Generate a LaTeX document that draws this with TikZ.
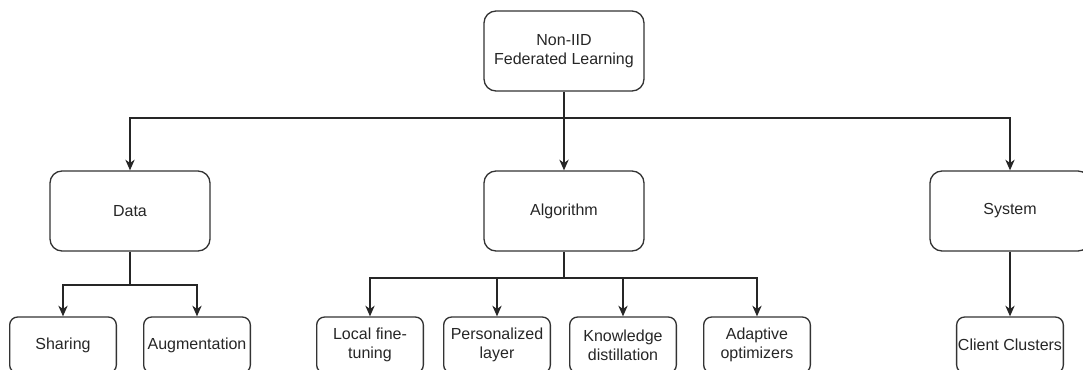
\documentclass[tikz,border=0pt]{standalone}
\usepackage{fontspec}
\setmainfont{Liberation Sans}
\usetikzlibrary{arrows.meta}

\begin{document}
\begin{tikzpicture}[x=0.75pt, y=-0.75pt, line width=1pt,
    >={Stealth[length=8pt, width=7pt, inset=2.5pt]},
    every node/.style={font=\fontsize{12}{14}\selectfont, text=black!85},
    topbox/.style={draw=black!80, rounded corners=9pt, minimum width=120pt, minimum height=60pt, align=center, inner sep=1pt},
    leafbox/.style={draw=black!80, rounded corners=6pt, minimum width=80pt, minimum height=42pt, align=center, inner sep=1pt},
    link/.style={draw=black!85, ->}]
    \clip (0,0) rectangle (1083,369);

    % Root
    \node[topbox] (root) at (564, 51) {Non-IID\\Federated Learning};

    % Main categories
    \node[topbox] (data) at (130, 211) {Data};
    \node[topbox] (algo) at (564, 211) {Algorithm};
    \node[topbox] (sys) at (1010, 211) {System};

    % Leaves
    \node[leafbox] (share) at (63, 345) {Sharing};
    \node[leafbox] (augm) at (197, 345) {Augmentation};
    \node[leafbox] (local) at (370, 345) {Local fine-\\tuning};
    \node[leafbox] (pers) at (497, 345) {Personalized\\layer};
    \node[leafbox] (know) at (623, 345) {Knowledge\\distillation};
    \node[leafbox] (adapt) at (757, 345) {Adaptive\\optimizers};
    \node[leafbox] (clust) at (1010, 345) {Client Clusters};

    % Branch points
    \coordinate (rootsplit) at (564, 118);
    \coordinate (datasplit) at (130, 285);
    \coordinate (algosplit) at (564, 278);

    % Root to categories
    \draw[link] (root.south) -- (algo.north);
    \draw[link] (rootsplit) -| (data.north);
    \draw[link] (rootsplit) -| (sys.north);

    % Data to leaves
    \draw[draw=black!85] (data.south) -- (datasplit);
    \draw[link] (datasplit) -| (share.north);
    \draw[link] (datasplit) -| (augm.north);

    % Algorithm to leaves
    \draw[draw=black!85] (algo.south) -- (algosplit);
    \draw[link] (algosplit) -| (local.north);
    \draw[link] (algosplit) -| (pers.north);
    \draw[link] (algosplit) -| (know.north);
    \draw[link] (algosplit) -| (adapt.north);

    % System to leaf
    \draw[link] (sys.south) -- (clust.north);
\end{tikzpicture}
\end{document}
